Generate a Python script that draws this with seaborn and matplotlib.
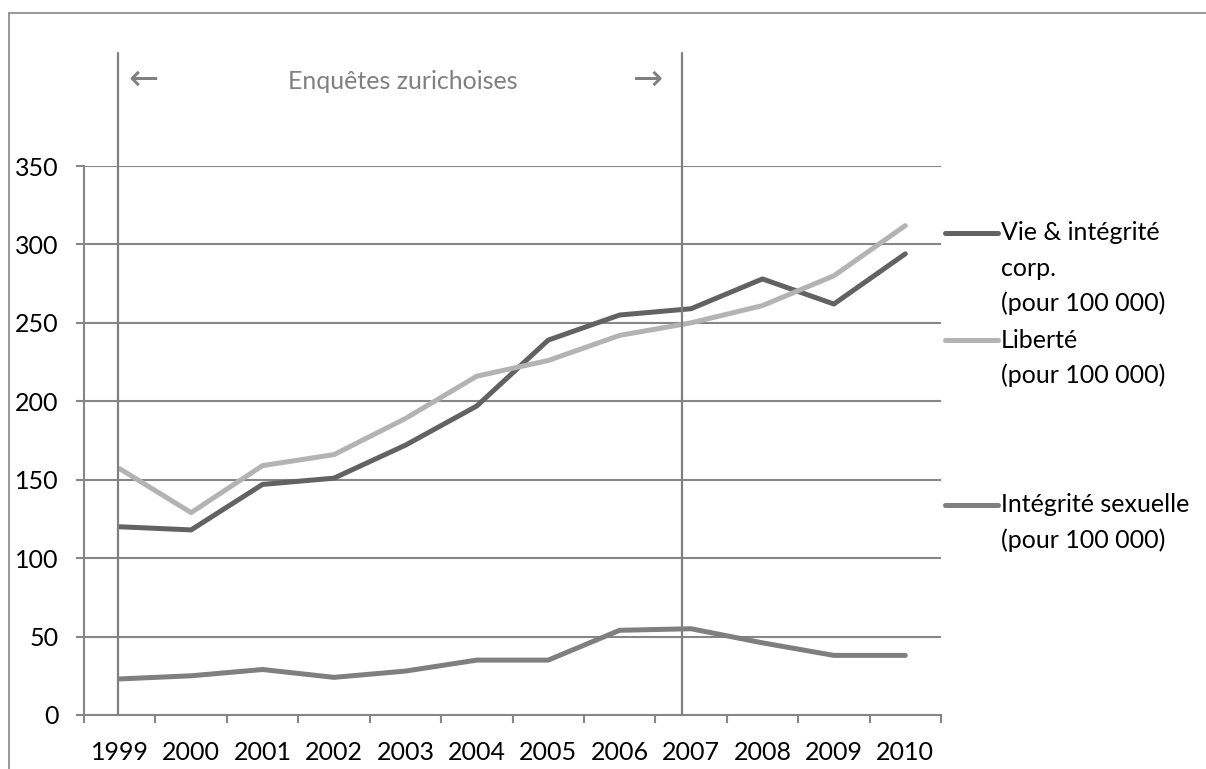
import matplotlib
matplotlib.use("Agg")
import matplotlib.pyplot as plt
from matplotlib.lines import Line2D
import seaborn as sns
import pandas as pd

# Annual rates per 100 000 inhabitants
years = [1999, 2000, 2001, 2002, 2003, 2004, 2005, 2006, 2007, 2008, 2009, 2010]
vie_integrite = [120, 118, 147, 151, 172, 197, 239, 255, 259, 278, 262, 294]
liberte = [157, 129, 159, 166, 189, 216, 226, 242, 250, 261, 280, 312]
integrite_sexuelle = [23, 25, 29, 24, 28, 35, 35, 54, 55, 46, 38, 38]

series_names = ["Vie & intégrité\ncorp.\n(pour 100 000)",
                "Liberté\n(pour 100 000)",
                "Intégrité sexuelle\n(pour 100 000)"]
series_colors = ["#626262", "#b3b3b3", "#7f7f7f"]
y_ticks = [0, 50, 100, 150, 200, 250, 300, 350]
survey_label = "Enquêtes zurichoises"

sns.set_theme(style="white")
plt.rcParams["font.family"] = ["Lato", "DejaVu Sans"]
FS = 18

rows = []
for name, vals in zip(series_names, [vie_integrite, liberte, integrite_sexuelle]):
    for i, (yr, v) in enumerate(zip(years, vals)):
        rows.append({"pos": i, "year": yr, "value": v, "serie": name})
df = pd.DataFrame(rows)

fig = plt.figure(figsize=(12.06, 7.69), dpi=100)
ax = fig.add_axes([84 / 1206, 1 - 715 / 769, (941 - 84) / 1206, (715 - 166) / 769])

grid_c = "#868686"
for v in y_ticks[1:]:
    ax.axhline(v, color=grid_c, lw=1.5, zorder=1)

sns.lineplot(data=df, x="pos", y="value", hue="serie", hue_order=series_names,
             palette=series_colors, linewidth=3.6, legend=False, ax=ax, zorder=3,
             solid_capstyle="round", solid_joinstyle="round")

ax.set_xlim(-0.5, len(years) - 0.5)
ax.set_ylim(0, 350)
ax.set_xlabel("")
ax.set_ylabel("")

# category axis: labels centred, tick marks between categories
ax.set_xticks(range(len(years)))
ax.set_xticklabels([str(y) for y in years])
ax.set_xticks([i - 0.5 for i in range(len(years) + 1)], minor=True)
ax.tick_params(axis="x", which="major", length=0, pad=18.5, labelsize=FS, labelcolor="black")
ax.tick_params(axis="x", which="minor", length=6, width=1.5, color=grid_c, direction="out")
ax.xaxis.set_ticks_position("bottom")

ax.set_yticks(y_ticks)
ax.tick_params(axis="y", which="major", length=6, width=1.5, color=grid_c, pad=12.5,
               labelsize=FS, labelcolor="black", direction="out", left=True)

for side in ["top", "right"]:
    ax.spines[side].set_visible(False)
for side in ["left", "bottom"]:
    ax.spines[side].set_color(grid_c)
    ax.spines[side].set_linewidth(1.5)

# survey period markers
top_y = 422
for xp in [years.index(1999) - 0.03, years.index(2007) - 0.13]:
    ax.plot([xp, xp], [0, top_y], color="#808080", lw=1.6, clip_on=False, zorder=4)

ax.text(3.97, 404, survey_label, ha="center", va="center", fontsize=FS,
        color="#808080", clip_on=False)
ax.text(0.33, 405, "←", ha="center", va="center", fontsize=26,
        color="#808080", clip_on=False, family=["DejaVu Sans"])
ax.text(7.40, 405, "→", ha="center", va="center", fontsize=26,
        color="#808080", clip_on=False, family=["DejaVu Sans"])

# legend on the right
W, H = 1206, 769
legend_y = [233, 340, 505]
for name, col, yy in zip(series_names, series_colors, legend_y):
    fig.add_artist(Line2D([945 / W, 998 / W], [1 - yy / H, 1 - yy / H],
                          color=col, lw=3.6, solid_capstyle="round",
                          transform=fig.transFigure))
    for k, line in enumerate(name.split("\n")):
        fig.text(1001 / W, 1 - (yy + 35 * k) / H, line, ha="left", va="center",
                 fontsize=FS, color="black")

# chart-area frame
frame_c = "#878787"
fig.add_artist(Line2D([8.5 / W, 8.5 / W], [1 - 13 / H, 0], color=frame_c, lw=1.2,
                      transform=fig.transFigure))
fig.add_artist(Line2D([8.5 / W, 1], [1 - 13 / H, 1 - 13 / H], color=frame_c, lw=1.2,
                      transform=fig.transFigure))

fig.savefig("out.png", dpi=100, facecolor="white")
